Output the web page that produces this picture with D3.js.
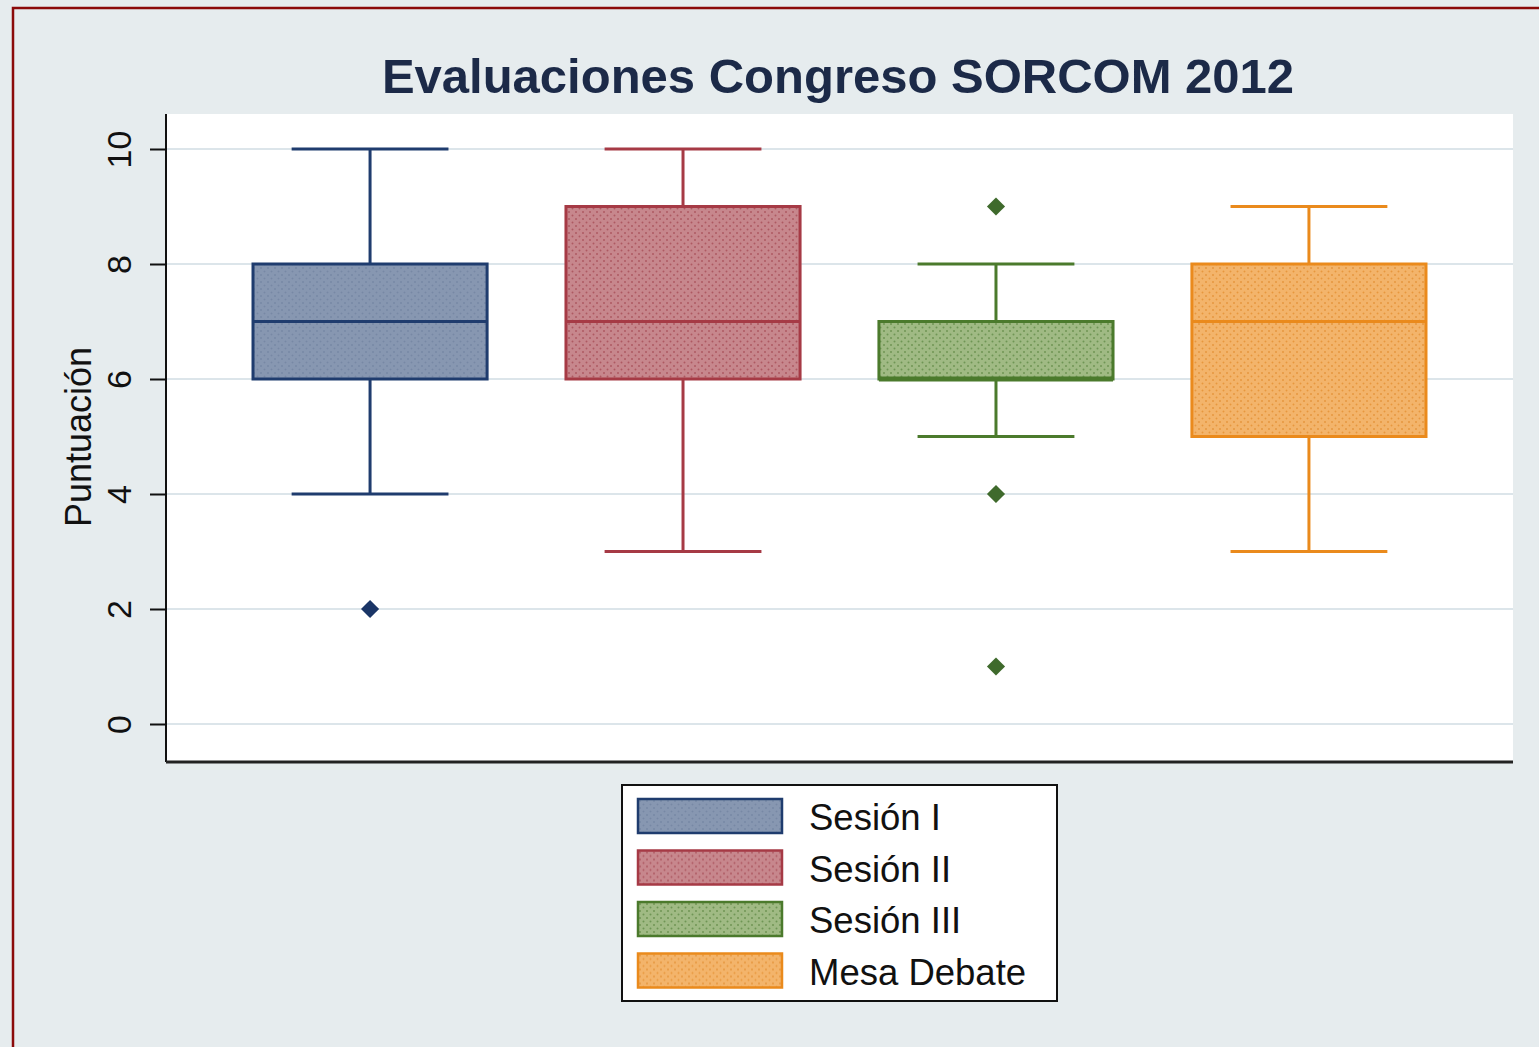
<!DOCTYPE html>
<html>
<head>
<meta charset="utf-8">
<script src="https://cdn.jsdelivr.net/npm/d3@7"></script>
<style>
  body { margin: 0; background: #fff; }
  svg { display: block; }
</style>
</head>
<body>
<svg id="chart" width="1539" height="1047"></svg>
<script>
'use strict';

// data
var categories = ['Sesión I', 'Sesión II', 'Sesión III', 'Mesa Debate'];
var whiskerLow = [4, 3, 5, 3];
var q1 = [6, 6, 6, 5];
var median = [7, 7, 6, 7];
var q3 = [8, 9, 7, 8];
var whiskerHigh = [10, 10, 8, 9];
var outliers = [[2], [], [9, 4, 1], []];
var yTicks = [0, 2, 4, 6, 8, 10];

var fills = ['#8797b1', '#c7878d', '#a0ba84', '#f3b46b'];
var strokes = ['#1f3c6e', '#a63a45', '#4b7a2c', '#ea8a1c'];
var dots = ['#6d7f9c', '#9c3a46', '#4e7d35', '#e08420'];
var markers = ['#1a3566', '#a63a45', '#3f6a2c', '#ea8a1c'];

var svg = d3.select('#chart');
var W = 1539, H = 1047;
var plot = { left: 166, right: 1513, top: 114, bottom: 762 };

// page background + border
svg.append('rect').attr('width', W).attr('height', H).attr('fill', '#e6ecee');
svg.append('path')
	.attr('d', 'M13,' + H + ' V8 H' + W)
	.attr('fill', 'none').attr('stroke', '#8b0a0a').attr('stroke-width', 2.5);

// patterns for the stippled fills
var defs = svg.append('defs');
categories.forEach(function (c, i) {
	var p = defs.append('pattern')
		.attr('id', 'pat' + i)
		.attr('patternUnits', 'userSpaceOnUse')
		.attr('width', 7).attr('height', 7);
	p.append('rect').attr('width', 7).attr('height', 7).attr('fill', fills[i]);
	p.append('circle').attr('cx', 2).attr('cy', 2).attr('r', 1).attr('fill', dots[i]).attr('opacity', 0.6);
	p.append('circle').attr('cx', 5.5).attr('cy', 5.5).attr('r', 1).attr('fill', dots[i]).attr('opacity', 0.6);
});

// plot region
svg.append('rect')
	.attr('x', plot.left).attr('y', plot.top)
	.attr('width', plot.right - plot.left).attr('height', plot.bottom - plot.top)
	.attr('fill', '#ffffff');

var y = d3.scaleLinear().domain([0, 10]).range([724, 149]);
var x = d3.scaleBand().domain(categories)
	.range([plot.left, plot.right])
	.paddingInner(0.252).paddingOuter(0.278);

// grid
svg.append('g').selectAll('line').data(yTicks).join('line')
	.attr('x1', plot.left).attr('x2', plot.right)
	.attr('y1', function (d) { return y(d); }).attr('y2', function (d) { return y(d); })
	.attr('stroke', '#dce5ea').attr('stroke-width', 2);

// y axis
var yAxis = svg.append('g')
	.attr('transform', 'translate(' + plot.left + ',0)')
	.call(d3.axisLeft(y).tickValues(yTicks).tickSize(16).tickPadding(10));
yAxis.select('.domain').attr('stroke', '#111').attr('stroke-width', 2)
	.attr('d', 'M0,' + plot.top + 'V' + plot.bottom);
yAxis.selectAll('.tick line').attr('stroke', '#111').attr('stroke-width', 2);
yAxis.selectAll('.tick text')
	.attr('font-family', 'Liberation Sans, Arial, sans-serif')
	.attr('font-size', 34).attr('fill', '#111')
	.attr('text-anchor', 'middle')
	.attr('transform', 'rotate(-90)')
	.attr('x', 0).attr('dy', null)
	.attr('y', -35);

// bottom axis line
svg.append('line')
	.attr('x1', plot.left).attr('x2', plot.right)
	.attr('y1', plot.bottom).attr('y2', plot.bottom)
	.attr('stroke', '#222').attr('stroke-width', 3);

svg.append('text')
	.attr('transform', 'translate(91,437) rotate(-90)')
	.attr('text-anchor', 'middle')
	.attr('font-family', 'Liberation Sans, Arial, sans-serif')
	.attr('font-size', 36).attr('fill', '#111')
	.text('Puntuación');

// title
svg.append('text')
	.attr('x', 838).attr('y', 93)
	.attr('text-anchor', 'middle')
	.attr('font-family', 'Liberation Sans, Arial, sans-serif')
	.attr('font-weight', 'bold')
	.attr('font-size', 49).attr('fill', '#1c2a48')
	.text('Evaluaciones Congreso SORCOM 2012');

// boxes
var boxes = svg.append('g').selectAll('g').data(categories).join('g');
boxes.each(function (c, i) {
	var g = d3.select(this);
	var bw = x.bandwidth();
	var x0 = x(c), cx = x0 + bw / 2, capW = bw * 0.67;
	g.append('line').attr('x1', cx).attr('x2', cx)
		.attr('y1', y(whiskerHigh[i])).attr('y2', y(q3[i]))
		.attr('stroke', strokes[i]).attr('stroke-width', 3);
	g.append('line').attr('x1', cx).attr('x2', cx)
		.attr('y1', y(q1[i])).attr('y2', y(whiskerLow[i]))
		.attr('stroke', strokes[i]).attr('stroke-width', 3);
	[whiskerHigh[i], whiskerLow[i]].forEach(function (v) {
		g.append('line').attr('x1', cx - capW / 2).attr('x2', cx + capW / 2)
			.attr('y1', y(v)).attr('y2', y(v))
			.attr('stroke', strokes[i]).attr('stroke-width', 3);
	});
	g.append('rect')
		.attr('x', x0).attr('width', bw)
		.attr('y', y(q3[i])).attr('height', y(q1[i]) - y(q3[i]))
		.attr('fill', 'url(#pat' + i + ')')
		.attr('stroke', strokes[i]).attr('stroke-width', 3);
	g.append('line').attr('x1', x0).attr('x2', x0 + bw)
		.attr('y1', y(median[i])).attr('y2', y(median[i]))
		.attr('stroke', strokes[i]).attr('stroke-width', median[i] === q1[i] ? 5 : 3);
	g.selectAll('path.out').data(outliers[i]).join('path')
		.attr('class', 'out')
		.attr('transform', function (v) { return 'translate(' + cx + ',' + y(v) + ')'; })
		.attr('d', d3.symbol(d3.symbolDiamond2, 210))
		.attr('fill', markers[i]);
});

// legend
var leg = svg.append('g').attr('transform', 'translate(622,785)');
leg.append('rect').attr('width', 435).attr('height', 216)
	.attr('fill', '#fff').attr('stroke', '#111').attr('stroke-width', 2);
var rows = leg.selectAll('g').data(categories).join('g')
	.attr('transform', function (d, i) { return 'translate(16,' + (14 + i * 51.5) + ')'; });
rows.append('rect').attr('width', 144).attr('height', 34)
	.attr('fill', function (d, i) { return 'url(#pat' + i + ')'; })
	.attr('stroke', function (d, i) { return strokes[i]; }).attr('stroke-width', 2.5);
rows.append('text')
	.attr('x', 171).attr('y', 31)
	.attr('font-family', 'Liberation Sans, Arial, sans-serif')
	.attr('font-size', 36.5).attr('fill', '#111')
	.text(function (d) { return d; });
</script>
</body>
</html>
